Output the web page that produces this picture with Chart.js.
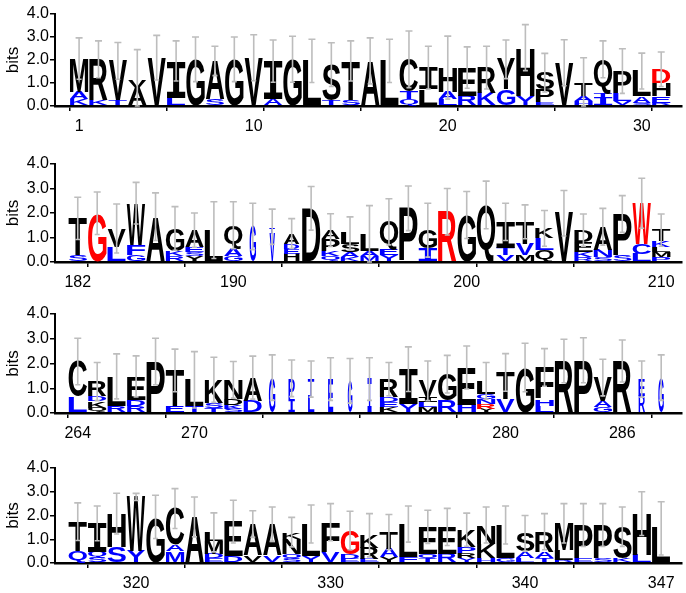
<!DOCTYPE html>
<html><head><meta charset="utf-8">
<script src="https://cdn.jsdelivr.net/npm/chart.js"></script>
<style>
body{margin:0;background:#fff;width:686px;height:593px;overflow:hidden;position:relative}
.p{position:absolute;left:0;width:686px}
</style></head><body>
<div class="p" style="top:0;height:145px"><canvas id="c1"></canvas></div>
<div class="p" style="top:150px;height:145px"><canvas id="c2"></canvas></div>
<div class="p" style="top:300px;height:145px"><canvas id="c3"></canvas></div>
<div class="p" style="top:450px;height:143px"><canvas id="c4"></canvas></div>
<script>
// ---------- DATA (letters bottom -> top; colour k=black b=blue r=red) ----------
const p1Letters = ["KAM","KR","TV","AV","V","LI","G","SA","G","V","AI","G","L","TS","ST","A","L","QTC","LI","LAH","RE","KR","GY","YH","EPS","V","HAT","ITQ","VLP","SAL","REHD"];
const p1Colors  = ["bbk","bk","bk","kk","k","bk","k","bk","k","k","bk","k","k","bk","bk","k","k","bbk","kk","bbk","bk","bk","bk","bk","bkk","k","bbk","bbk","bbk","bbk","bbkr"];
const p1Heights = [[0.29,0.33,1.44],[0.28,1.75],[0.25,1.71],[0.8,0.35],[2.1],[0.36,1.6],[2.03],[0.29,1.67],[2.03],[2.1],[0.3,1.65],[2.03],[1.96],[0.25,1.55],[0.25,1.71],[1.96],[1.96],[0.3,0.32,1.41],[0.72,0.95],[0.29,0.32,1.06],[0.45,1.22],[0.58,1.09],[0.72,1.31],[0.43,2.11],[0.15,0.58,0.72],[1.88],[0.22,0.2,0.58],[0.36,0.2,1.47],[0.22,0.34,0.96],[0.15,0.27,1.1],[0.15,0.27,0.58,0.6]];
const p1Err     = [0.9,0.8,0.8,1.3,0.97,0.87,0.97,0.64,0.97,1.0,0.92,1.0,0.94,0.95,0.87,1.0,0.94,1.23,0.93,1.37,0.9,0.93,0.84,1.0,0.84,1.0,1.1,0.8,0.97,0.78,0.75];
const p1Occ     = [1,1,1,1,1,1,1,1,1,1,1,1,1,1,1,1,1,1,1,1,1,1,1,1,1,1,1,1,1,1,1];
const p1TickText = ["1","10","20","30"];
const p1TickAt   = [0,9,19,29];
const p1MarkAt   = [0,5,10,15,20,25,30];

const p2Letters = ["ST","G","LV","GFW","A","RKG","YSEA","L","GAQ","G","VT","HEDA","D","QKPA","KASL","MAL","YEQ","P","IG","R","G","Q","VTI","MVT","QLK","V","RKED","SNA","SP","LCW","PMLKT"];
const p2Colors  = ["bk","r","bk","bbk","k","bbk","kbbk","k","bbk","b","bb","kbbk","k","bbkk","bbkk","bbk","bbk","k","bk","r","k","k","bbk","kbk","kbk","k","bbkk","bbk","bk","bbr","bkkbk"];
const p2Heights = [[0.27,1.51],[1.99],[0.62,0.75],[0.27,0.44,1.69],[1.85],[0.23,0.22,0.92],[0.23,0.18,0.2,0.69],[1.3],[0.23,0.3,0.97],[1.45],[1.16,0.28],[0.34,0.2,0.2,0.42],[2.19],[0.23,0.23,0.48,0.36],[0.2,0.2,0.32,0.44],[0.23,0.2,0.67],[0.27,0.25,1.12],[2.19],[0.55,0.75],[2.05],[1.92],[2.33],[0.27,0.3,1.07],[0.27,0.45,0.92],[0.48,0.48,0.41],[1.99],[0.2,0.2,0.42,0.48],[0.2,0.3,0.94],[0.27,1.69],[0.34,0.4,1.66],[0.2,0.2,0.2,0.25,0.45]];
const p2Err     = [0.86,0.87,1.0,0.85,0.97,0.89,0.7,1.16,0.96,0.95,0.72,0.61,0.89,0.67,0.68,1.2,0.94,0.91,1.1,0.95,0.96,0.97,0.76,0.69,0.73,0.93,0.66,0.75,0.75,1.02,0.66];
const p2Occ     = [1,1,1,1,1,1,1,1,1,0.35,0.3,0.85,1,1,1,1,1,1,1,1,1,1,1,1,1,1,1,1,1,1,1];
const p2TickText = ["182","190","200","210"];
const p2TickAt   = [0,8,20,30];
const p2MarkAt   = [1,6,11,16,21,26];

const p3Letters = ["LC","QKDR","RL","RDE","P","ET","TL","TSK","SKDN","DA","G","IP","LT","E","G","I","KEDR","YI","MLIV","RG","HE","YRNGL","VT","G","LHF","R","P","GAV","R","RE","G"];
const p3Colors  = ["bk","kkbk","bk","bbk","k","bk","bk","bbk","bbkk","bk","b","bb","bb","b","b","b","kbbk","bk","kbkk","bk","bk","krbbk","bk","k","bbk","k","k","bbk","k","bb","b"];
const p3Heights = [[0.67,1.41],[0.2,0.27,0.2,0.6],[0.27,1.21],[0.27,0.27,0.94],[2.08],[0.27,1.45],[0.27,1.07],[0.2,0.2,0.94],[0.16,0.17,0.25,0.76],[0.5,0.93],[1.43],[0.55,0.85],[0.7,0.67],[1.37],[1.3],[1.37],[0.23,0.2,0.21,0.73],[0.36,1.41],[0.23,0.21,0.2,0.66],[0.5,1.07],[0.32,1.52],[0.16,0.21,0.21,0.2,0.52],[0.56,1.08],[1.84],[0.3,0.27,1.27],[2.1],[2.13],[0.23,0.24,0.96],[2.1],[0.7,0.67],[1.43]];
const p3Err     = [0.94,0.77,0.91,0.83,0.94,0.86,1.14,0.91,0.74,0.87,0.92,0.74,0.73,0.86,0.9,0.86,0.67,0.9,0.8,0.76,0.87,0.74,0.76,0.98,0.76,0.88,0.91,0.74,0.85,0.73,0.92];
const p3Occ     = [1,1,1,1,1,1,1,1,1,1,0.35,0.35,0.35,0.28,0.25,0.22,1,1,1,1,1,1,1,1,1,1,1,1,1,0.35,0.3];
const p3TickText = ["264","270","280","286"];
const p3TickAt   = [0,6,22,28];
const p3MarkAt   = [0,5,10,15,20,25,30];

const p4Letters = ["QT","SQI","SH","YW","G","MAC","A","EDML","DE","VA","VA","SQNK","YL","VF","EDG","ERK","YAT","FL","TQE","RE","YRPK","HKN","GL","LAS","TAR","RLM","EP","SP","KS","LH","L"];
const p4Colors  = ["bk","bbk","bk","bk","k","bbk","k","bbkk","bk","kk","bk","bbkk","bk","bk","bbr","bkk","kbk","bk","bbk","bk","bkbk","bkk","bk","bbk","bbk","bkk","bk","bk","bk","bk","k"];
const p4Heights = [[0.51,1.23],[0.22,0.25,1.2],[0.69,1.39],[0.49,2.29],[1.94],[0.49,0.28,1.52],[1.94],[0.2,0.2,0.52,0.37],[0.28,1.46],[0.32,1.32],[0.32,1.32],[0.18,0.18,0.65,0.29],[0.28,1.36],[0.46,1.26],[0.18,0.2,0.99],[0.18,0.46,0.53],[0.25,0.35,0.7],[0.25,1.39],[0.18,0.2,1.14],[0.4,1.12],[0.2,0.2,0.28,0.72],[0.2,0.62,0.78],[0.2,1.4],[0.2,0.28,0.77],[0.2,0.28,0.84],[0.14,0.4,1.13],[0.2,1.4],[0.2,1.4],[0.2,1.33],[0.35,1.73],[1.46]];
const p4Err     = [0.79,0.73,0.86,0.15,0.91,0.84,0.84,0.82,0.9,0.56,0.72,0.62,0.8,0.78,0.81,0.91,0.74,0.76,0.7,0.78,0.7,0.76,0.8,0.75,0.76,0.83,0.9,0.9,0.83,0.92,1.12];
const p4Occ     = [1,1,1,1,1,1,1,1,1,1,1,1,1,1,1,1,1,1,1,1,1,1,1,1,1,1,1,1,1,1,1];
const p4TickText = ["320","330","340","347"];
const p4TickAt   = [3,13,23,30];
const p4MarkAt   = [1,6,11,16,21,26];

// ---------- RENDERING ----------
const COLORS = {k:'#000000', b:'#0000FF', r:'#FF0000'};

function drawLetter(ctx, ch, color, xc, w, yTop, yBot) {
  const h = yBot - yTop;
  if (h < 0.4 || w < 0.5) return;
  const font = ch === 'I' ? 'bold 100px "DejaVu Sans Mono"' : 'bold 100px "Liberation Sans"';
  ctx.save();
  ctx.font = font;
  ctx.textAlign = 'left';
  ctx.textBaseline = 'alphabetic';
  const m = ctx.measureText(ch);
  const gw = m.actualBoundingBoxLeft + m.actualBoundingBoxRight;
  const gh = m.actualBoundingBoxAscent + m.actualBoundingBoxDescent;
  ctx.translate(xc - w / 2, yBot);
  ctx.scale(w / gw, h / gh);
  ctx.fillStyle = color;
  ctx.fillText(ch, m.actualBoundingBoxLeft, -m.actualBoundingBoxDescent);
  ctx.restore();
}

const logoPlugin = {
  id: 'logo',
  afterDatasetsDraw(chart) {
    const o = chart.options.plugins.logo;
    const ctx = chart.ctx;
    const xs = chart.scales.x, ys = chart.scales.y;
    const step = Math.abs(xs.getPixelForValue(1) - xs.getPixelForValue(0));
    chart.data.datasets.forEach((ds, k) => {
      const meta = chart.getDatasetMeta(k);
      meta.data.forEach((el, i) => {
        const v = ds.data[i].y;
        if (v == null) return;
        const p = el.getProps(['x', 'y', 'base'], true);
        const w = step * 0.95 * o.occ[i];
        drawLetter(ctx, o.letters[i][k], COLORS[o.colors[i][k]], p.x, w, Math.min(p.y, p.base), Math.max(p.y, p.base));
      });
    });
    // error bars
    ctx.save();
    ctx.strokeStyle = '#bdbdbd';
    ctx.lineWidth = 1.6;
    o.heights.forEach((hs, i) => {
      const tot = hs.reduce((a, b) => a + b, 0);
      const e = o.err[i];
      const x = xs.getPixelForValue(i);
      const y1 = ys.getPixelForValue(tot + e), y0 = ys.getPixelForValue(Math.max(0, tot - e));
      ctx.beginPath();
      ctx.moveTo(x, y0); ctx.lineTo(x, y1);
      ctx.moveTo(x - 3.5, y1); ctx.lineTo(x + 3.5, y1);
      ctx.moveTo(x - 2.5, y0); ctx.lineTo(x + 2.5, y0);
      ctx.stroke();
    });
    ctx.restore();
  }
};

function makePanel(id, letters, colors, heights, err, occ, tickText, tickAt, markAt, padTop, axisH, xmin) {
  const depth = Math.max(...heights.map(h => h.length));
  const datasets = [];
  for (let k = 0; k < depth; k++) {
    datasets.push({
      data: heights.map((h, i) => ({x: i, y: h[k] !== undefined ? h[k] : null})),
      backgroundColor: 'rgba(0,0,0,0)',
      borderWidth: 0,
      barPercentage: 1,
      categoryPercentage: 1
    });
  }
  const cols = heights.map((h, i) => i);
  new Chart(document.getElementById(id), {
    type: 'bar',
    data: {datasets},
    plugins: [logoPlugin],
    options: {
      responsive: true,
      maintainAspectRatio: false,
      animation: false,
      events: [],
      layout: {padding: {top: padTop, right: 4, left: 0, bottom: 0}},
      plugins: {
        legend: {display: false},
        tooltip: {enabled: false},
        logo: {letters, colors, heights, err, occ}
      },
      scales: {
        x: {
          type: 'linear',
          stacked: true,
          min: xmin,
          max: 30.55,
          afterBuildTicks: s => { s.ticks = cols.map(v => ({value: v})); },
          afterFit: s => { s.height = axisH; },
          ticks: {
            autoSkip: false, maxRotation: 0, padding: 6,
            color: '#000',
            font: {family: '"Liberation Sans", Arial, sans-serif', size: 16},
            callback: v => { const j = tickAt.indexOf(v); return j >= 0 ? tickText[j] : ''; }
          },
          grid: {
            drawOnChartArea: false, drawTicks: true, tickLength: 5, lineWidth: 1.5,
            color: c => (c.tick && markAt.includes(c.tick.value)) ? '#000' : 'rgba(0,0,0,0)'
          },
          border: {display: true, color: '#000', width: 2.5}
        },
        y: {
          stacked: true,
          min: 0, max: 4,
          afterFit: s => { s.width = 55; },
          ticks: {
            stepSize: 1, padding: 1, color: '#000',
            font: {family: '"Liberation Sans", Arial, sans-serif', size: 16},
            callback: v => v.toFixed(1)
          },
          grid: {drawOnChartArea: false, drawTicks: true, tickLength: 5, lineWidth: 1.5, color: '#000'},
          border: {display: true, color: '#000', width: 2},
          title: {display: true, text: 'bits', color: '#000', padding: {top: 3, bottom: 0},
                  font: {family: '"Liberation Sans", Arial, sans-serif', size: 17}}
        }
      }
    }
  });
}

makePanel('c1', p1Letters, p1Colors, p1Heights, p1Err, p1Occ, p1TickText, p1TickAt, p1MarkAt, 14, 39, -0.72);
makePanel('c2', p2Letters, p2Colors, p2Heights, p2Err, p2Occ, p2TickText, p2TickAt, p2MarkAt, 14, 33, -0.65);
makePanel('c3', p3Letters, p3Colors, p3Heights, p3Err, p3Occ, p3TickText, p3TickAt, p3MarkAt, 14, 32, -0.65);
makePanel('c4', p4Letters, p4Colors, p4Heights, p4Err, p4Occ, p4TickText, p4TickAt, p4MarkAt, 18, 30, -0.65);
</script>
</body></html>
